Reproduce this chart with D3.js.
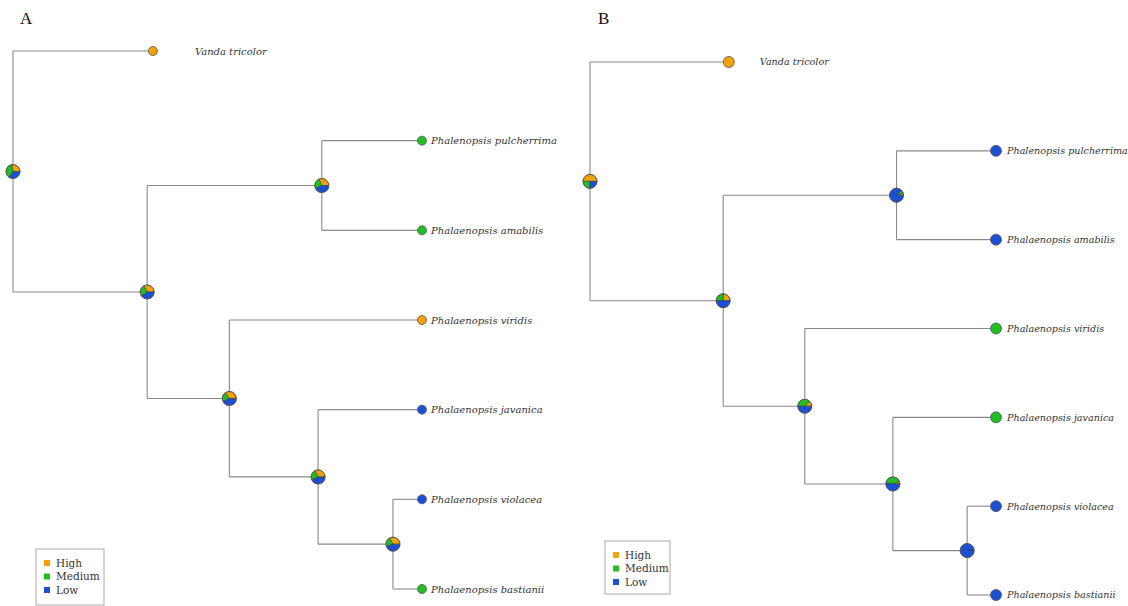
<!DOCTYPE html>
<html>
<head>
<meta charset="utf-8">
<script src="https://cdn.jsdelivr.net/npm/d3@7"></script>
<style>
  html, body { margin: 0; padding: 0; background: #fff; }
  svg { display: block; }
</style>
</head>
<body>
<svg id="chart" width="1128" height="606"></svg>
<script>
// Tip taxa, top to bottom, with their parent node and distance from the root
const taxa = ["Vanda tricolor", "Phalenopsis pulcherrima", "Phalaenopsis amabilis",
  "Phalaenopsis viridis", "Phalaenopsis javanica", "Phalaenopsis violacea", "Phalaenopsis bastianii"];
const taxaParent = ["root", "n2", "n2", "n3", "n4", "n5", "n5"];
const taxaDepth = [0.342, 1, 1, 1, 1, 1, 1];

// Internal nodes, their parents and distance from the root
const nodes = ["root", "n1", "n2", "n3", "n4", "n5"];
const nodeParent = [null, "root", "n1", "n1", "n3", "n4"];
const nodeDepth = [0, 0.328, 0.755, 0.529, 0.746, 0.929];

// Character states
const states = ["High", "Medium", "Low"];
const stateColors = ["#f3a10a", "#1fc01f", "#1b4fd6"];

// Panel A: observed tip states and ancestral state probabilities [High, Medium, Low]
const tipStateA = ["High", "Medium", "Medium", "High", "Low", "Low", "Medium"];
const nodeProbA = [
  [0.28, 0.38, 0.34],
  [0.33, 0.27, 0.40],
  [0.32, 0.25, 0.43],
  [0.35, 0.22, 0.43],
  [0.33, 0.24, 0.43],
  [0.33, 0.22, 0.45]
];

// Panel B
const tipStateB = ["High", "Low", "Low", "Medium", "Medium", "Low", "Low"];
const nodeProbB = [
  [0.50, 0.25, 0.25],
  [0.25, 0.25, 0.50],
  [0.05, 0.08, 0.87],
  [0.13, 0.37, 0.50],
  [0.06, 0.42, 0.52],
  [0.01, 0.01, 0.98]
];

const svg = d3.select("#chart");
const color = d3.scaleOrdinal().domain(states).range(stateColors);

function drawPanel(opt, tipState, nodeProb) {
  const g = svg.append("g");
  const x = d3.scaleLinear().domain([0, 1]).range([opt.x0, opt.x1]);
  const y = d3.scaleLinear().domain([0, taxa.length - 1]).range([opt.y0, opt.y1]);

  // positions: tips by order, internal nodes at midpoint of their children
  const pos = {};
  taxa.forEach((t, i) => { pos[t] = { x: x(taxaDepth[i]), y: y(i), parent: taxaParent[i], kids: [] }; });
  nodes.forEach((n, i) => { pos[n] = { x: x(nodeDepth[i]), parent: nodeParent[i], kids: [] }; });
  taxa.forEach((t, i) => pos[taxaParent[i]].kids.push(t));
  nodes.forEach((n, i) => { if (nodeParent[i]) pos[nodeParent[i]].kids.push(n); });
  function yOf(k) {
    const p = pos[k];
    if (p.y === undefined) {
      const ys = p.kids.map(yOf);
      p.y = (d3.min(ys) + d3.max(ys)) / 2;
    }
    return p.y;
  }
  yOf("root");

  const lineColor = "#8a8a8a";
  // vertical connectors
  nodes.forEach(n => {
    const ys = pos[n].kids.map(k => pos[k].y);
    g.append("line")
      .attr("x1", pos[n].x).attr("x2", pos[n].x)
      .attr("y1", d3.min(ys)).attr("y2", d3.max(ys))
      .attr("stroke", lineColor).attr("stroke-width", 1.1);
  });
  // horizontal branches
  Object.keys(pos).forEach(k => {
    const p = pos[k];
    if (!p.parent) return;
    g.append("line")
      .attr("x1", pos[p.parent].x).attr("x2", p.x)
      .attr("y1", p.y).attr("y2", p.y)
      .attr("stroke", lineColor).attr("stroke-width", 1.1);
  });

  // ancestral state pies, drawn counter-clockwise from 3 o'clock
  const pie = d3.pie().sort(null).value(d => d)
    .startAngle(Math.PI / 2).endAngle(Math.PI / 2 - 2 * Math.PI);
  const arc = d3.arc().innerRadius(0).outerRadius(opt.nodeR);
  nodes.forEach((n, i) => {
    const pg = g.append("g").attr("transform", `translate(${pos[n].x},${pos[n].y})`);
    pg.selectAll("path").data(pie(nodeProb[i])).join("path")
      .attr("d", arc)
      .attr("fill", (d, j) => color(states[j]))
      .attr("stroke", "#333").attr("stroke-width", 0.5);
    pg.append("circle").attr("r", opt.nodeR)
      .attr("fill", "none").attr("stroke", "#555").attr("stroke-width", 0.8);
  });

  // tips
  taxa.forEach((t, i) => {
    g.append("circle")
      .attr("cx", pos[t].x).attr("cy", pos[t].y).attr("r", opt.tipR)
      .attr("fill", color(tipState[i]))
      .attr("stroke", "#555").attr("stroke-width", 0.8);
    g.append("text")
      .attr("x", pos[t].x + (i === 0 ? opt.outLabelOff : opt.labelOff))
      .attr("y", pos[t].y).attr("dy", "0.35em")
      .attr("font-family", "'DejaVu Serif', serif")
      .attr("font-style", "italic")
      .attr("font-size", opt.labelSize)
      .attr("fill", "#333")
      .text(t);
  });

  // panel letter
  g.append("text").attr("x", opt.letterX).attr("y", 24)
    .attr("font-family", "'Liberation Serif', serif").attr("font-size", 17)
    .attr("fill", "#111").text(opt.letter);

  // legend
  const lg = g.append("g").attr("transform", `translate(${opt.legX},${opt.legY})`);
  lg.append("rect").attr("width", opt.legW).attr("height", opt.legH)
    .attr("fill", "#fff").attr("stroke", "#aaa").attr("stroke-width", 1);
  states.forEach((s, j) => {
    const yy = 14 + j * 13.5;
    lg.append("rect").attr("x", 8).attr("y", yy - 3).attr("width", 6).attr("height", 6)
      .attr("fill", color(s));
    lg.append("text").attr("x", 20).attr("y", yy).attr("dy", "0.35em")
      .attr("font-family", "'DejaVu Serif', serif").attr("font-size", 10.5)
      .attr("fill", "#333").text(s);
  });
}

drawPanel({ x0: 13, x1: 422, y0: 51, y1: 589, nodeR: 7, tipR: 4.5,
  labelOff: 9, outLabelOff: 42, labelSize: 10, letter: "A", letterX: 20,
  legX: 36, legY: 549, legW: 68, legH: 56 }, tipStateA, nodeProbA);

drawPanel({ x0: 590, x1: 996, y0: 62, y1: 595, nodeR: 7, tipR: 5.5,
  labelOff: 11, outLabelOff: 31, labelSize: 9.6, letter: "B", letterX: 598,
  legX: 605, legY: 541, legW: 65, legH: 53 }, tipStateB, nodeProbB);
</script>
</body>
</html>
